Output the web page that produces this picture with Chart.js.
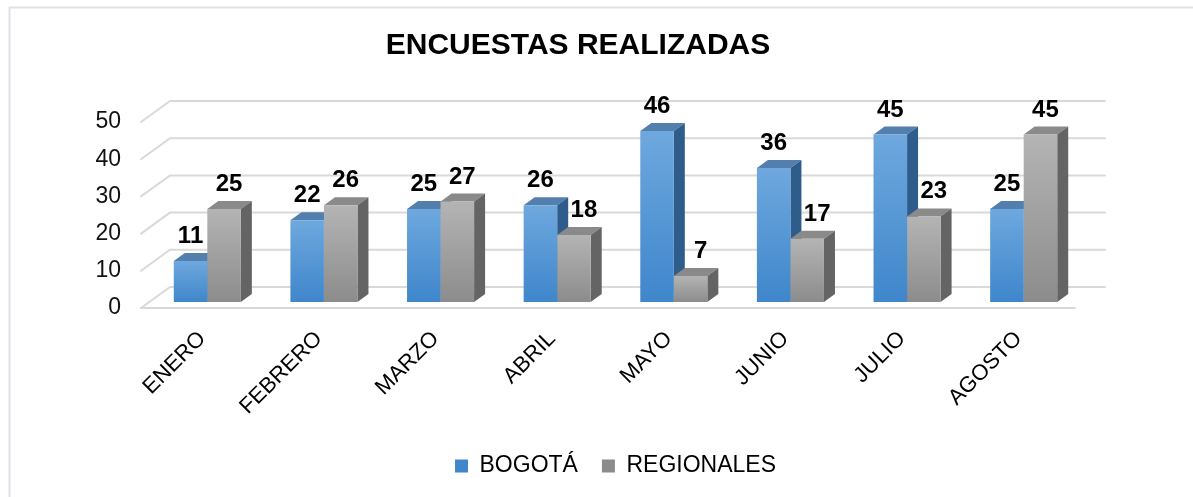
<!DOCTYPE html>
<html>
<head>
<meta charset="utf-8">
<script src="https://cdn.jsdelivr.net/npm/chart.js@4.4.1/dist/chart.umd.min.js"></script>
<style>
html,body{margin:0;padding:0;background:#fff;}
canvas{display:block;}
</style>
</head>
<body>
<canvas id="c" width="1193" height="497"></canvas>
<script>
const categories = ['ENERO','FEBRERO','MARZO','ABRIL','MAYO','JUNIO','JULIO','AGOSTO'];
const bogota = [11, 22, 25, 26, 46, 36, 45, 25];
const regionales = [25, 26, 27, 18, 7, 17, 23, 45];
const yTicks = [0, 10, 20, 30, 40, 50];
const seriesNames = ['BOGOTÁ', 'REGIONALES'];
const chartTitle = 'ENCUESTAS REALIZADAS';

const FONT = "'Liberation Sans', Arial, sans-serif";
const DX = 11, DY = -8;           // bar depth
const FRONT = {dx: -8, dy: 6};    // floor front edge relative to bar plane
const BACK = {dx: 21, dy: -15};   // back wall relative to bar plane

const palette = [
  {light: '#6ea8de', dark: '#3f86cb', solid: '#4a90d6', top: '#527fae', side: '#2f5d8b'},
  {light: '#b4b4b4', dark: '#8c8c8c', solid: '#a3a3a3', top: '#8a8a8a', side: '#646464'}
];

function frontFill(i) {
  return function(ctx) {
    const chart = ctx.chart;
    const y = chart.scales && chart.scales.y;
    if (ctx.type !== 'data' || !chart.chartArea || !y) return palette[i].solid;
    const v = ctx.parsed ? ctx.parsed.y : ctx.raw;
    const t = y.getPixelForValue(v), b = y.getPixelForValue(0);
    if (!isFinite(t) || !isFinite(b) || t === b) return palette[i].solid;
    const g = chart.ctx.createLinearGradient(0, t, 0, b);
    g.addColorStop(0, palette[i].light);
    g.addColorStop(1, palette[i].dark);
    return g;
  };
}

const frame = {
  id: 'frame',
  beforeDraw(chart) {
    const c = chart.ctx;
    c.save();
    c.fillStyle = '#fff';
    c.fillRect(0, 0, chart.width, chart.height);
    c.strokeStyle = '#dde2e8';
    c.lineWidth = 2;
    c.beginPath();
    c.moveTo(9.5, chart.height);
    c.lineTo(9.5, 7.5);
    c.lineTo(chart.width, 7.5);
    c.stroke();
    c.restore();
  }
};

const walls = {
  id: 'walls',
  beforeDatasetsDraw(chart) {
    const c = chart.ctx;
    const {left, right, bottom} = chart.chartArea;
    const y = chart.scales.y;
    c.save();
    c.strokeStyle = '#d9d9d9';
    c.lineWidth = 2;
    c.lineCap = 'round';
    y.ticks.forEach(t => {
      const py = y.getPixelForValue(t.value);
      c.beginPath();
      c.moveTo(left + FRONT.dx, py + FRONT.dy);
      c.lineTo(left + BACK.dx, py + BACK.dy);
      c.lineTo(right + BACK.dx + 2, py + BACK.dy);
      c.stroke();
    });
    c.beginPath();
    c.moveTo(left + FRONT.dx, bottom + FRONT.dy);
    c.lineTo(right + FRONT.dx + 1, bottom + FRONT.dy);
    c.stroke();
    // bar depth faces
    chart.data.datasets.forEach((ds, i) => {
      const meta = chart.getDatasetMeta(i);
      meta.data.forEach(bar => {
        const p = bar.getProps(['x', 'y', 'base', 'width'], true);
        const l = p.x - p.width / 2, r = p.x + p.width / 2;
        c.fillStyle = palette[i].top;
        c.beginPath();
        c.moveTo(l, p.y); c.lineTo(l + DX, p.y + DY); c.lineTo(r + DX, p.y + DY); c.lineTo(r, p.y);
        c.closePath(); c.fill();
        c.fillStyle = palette[i].side;
        c.beginPath();
        c.moveTo(r, p.y); c.lineTo(r + DX, p.y + DY); c.lineTo(r + DX, p.base + DY); c.lineTo(r, p.base);
        c.closePath(); c.fill();
      });
    });
    c.restore();
  }
};

const labels3d = {
  id: 'labels3d',
  afterDatasetsDraw(chart) {
    const c = chart.ctx;
    c.save();
    c.font = 'bold 24px ' + FONT;
    c.fillStyle = '#000';
    c.textAlign = 'center';
    c.textBaseline = 'alphabetic';
    chart.data.datasets.forEach((ds, i) => {
      const meta = chart.getDatasetMeta(i);
      meta.data.forEach((bar, j) => {
        const p = bar.getProps(['x', 'y'], true);
        let shift = 0;
        if (i === 1) shift = (chart.data.datasets[0].data[j] > ds.data[j]) ? 10 : 5;
        c.fillText(String(ds.data[j]), p.x + shift, p.y + DY - 10);
      });
    });
    c.restore();
  }
};

new Chart(document.getElementById('c'), {
  type: 'bar',
  data: {
    labels: categories,
    datasets: [
      {label: seriesNames[0], data: bogota, backgroundColor: frontFill(0), borderWidth: 0},
      {label: seriesNames[1], data: regionales, backgroundColor: frontFill(1), borderWidth: 0}
    ]
  },
  options: {
    responsive: false,
    animation: false,
    devicePixelRatio: 1,
    datasets: {bar: {categoryPercentage: 0.575, barPercentage: 1.0}},
    layout: {padding: {left: 0, right: 37, top: 0, bottom: 9.5}},
    scales: {
      x: {
        grid: {display: false, drawTicks: false},
        border: {display: false},
        ticks: {
          autoSkip: false, maxRotation: 45, minRotation: 45, padding: 24, labelOffset: -5,
          color: '#000', font: {family: FONT, size: 22}
        },
        afterFit(s) { s.height = 128.5; }
      },
      y: {
        min: 0, max: 50,
        grid: {display: false, drawTicks: false},
        border: {display: false},
        afterBuildTicks(s) { s.ticks = yTicks.map(v => ({value: v})); },
        ticks: {
          padding: 28, labelOffset: 6, color: '#111',
          font: {family: FONT, size: 23}
        },
        afterFit(s) { s.width = 149; }
      },
      y2: {
        position: 'right',
        display: true,
        grid: {display: false, drawTicks: false},
        border: {display: false},
        ticks: {display: false},
        afterFit(s) { s.width = 74; }
      }
    },
    plugins: {
      title: {
        display: true, text: chartTitle, color: '#000',
        font: {family: FONT, size: 30, weight: 'bold'},
        padding: {top: 28, bottom: 52}
      },
      legend: {
        position: 'bottom', fullSize: false,
        labels: {
          boxWidth: 13, boxHeight: 13, padding: 24, color: '#000',
          font: {family: FONT, size: 23}
        }
      },
      tooltip: {enabled: false}
    }
  },
  plugins: [frame, walls, labels3d]
});
</script>
</body>
</html>
